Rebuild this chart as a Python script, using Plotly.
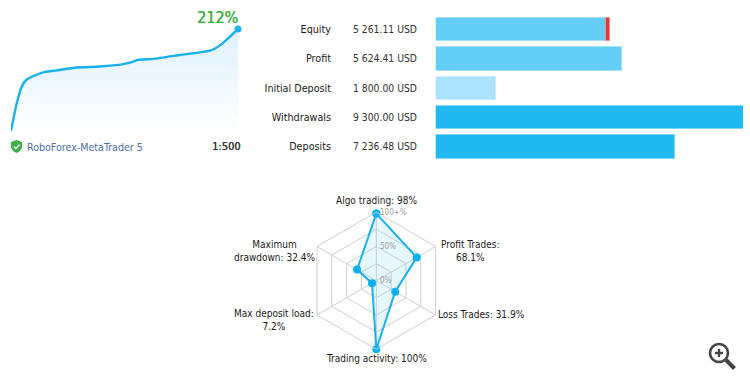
import plotly.graph_objects as go

W, H = 750, 383
FONT = "DejaVu Sans Condensed"

# growth curve
growth_x = [33, 50, 65, 80, 100, 130, 170, 230, 300, 370, 390, 415, 460, 540, 630, 660, 714]
growth_y = [0, 57, 92, 107, 114, 122, 126, 132, 134, 139, 142, 148, 150, 158, 167, 178, 212]
growth_label = "212%"
server_label = "RoboForex-MetaTrader 5"
leverage_label = "1:500"

# bars
bar_categories = ["Equity", "Profit", "Initial Deposit", "Withdrawals", "Deposits"]
bar_texts = ["5 261.11 USD", "5 624.41 USD", "1 800.00 USD", "9 300.00 USD", "7 236.48 USD"]
bar_values = [5151, 5624.41, 1800, 9300, 7236.48]
bar_colors = ["#63CEF6", "#63CEF6", "#ABE3FC", "#1FB8F1", "#1FB8F1"]
bar_edges = ["#A5E2FA", "#A5E2FA", "#CDEEFD", "#7FD6F7", "#7FD6F7"]
equity_loss = [110]

# radar
radar_axes = ["Algo trading", "Profit Trades", "Loss Trades", "Trading activity", "Max deposit load", "Maximum drawdown"]
radar_values = [98, 68.1, 31.9, 100, 7.2, 32.4]
radar_ticks = [0, 25, 50, 75, 100]
radar_ticktext = ["0%", "", "50%", "", "100+%"]
radar_labels = [
    ("Algo trading: 98%", 376.5, 200),
    ("Profit Trades:<br>68.1%", 469.5, 251),
    ("Loss Trades: 31.9%", 481, 314.5),
    ("Trading activity: 100%", 376.5, 358),
    ("Max deposit load:<br>7.2%", 273.5, 320),
    ("Maximum<br>drawdown: 32.4%", 274.5, 251),
]

def px(x):
    return x / W

def py(y):
    return 1 - y / H

fig = go.Figure()

# growth area
fig.add_trace(go.Scatter(
    x=growth_x, y=growth_y, mode="lines", xaxis="x", yaxis="y", cliponaxis=False,
    line=dict(color="#1AB0EE", width=2.4, shape="spline", smoothing=0.5),
    fill="tozeroy",
    fillgradient=dict(type="vertical", colorscale=[[0, "rgba(255,255,255,1)"], [1, "rgba(222,241,254,1)"]]),
    hoverinfo="skip", showlegend=False,
))
fig.add_trace(go.Scatter(
    x=growth_x[-1:], y=growth_y[-1:], mode="markers", xaxis="x", yaxis="y", cliponaxis=False,
    marker=dict(color="#1AB0EE", size=7), hoverinfo="skip", showlegend=False,
))

# bars
fig.add_trace(go.Bar(
    x=bar_values, y=bar_categories, orientation="h", xaxis="x2", yaxis="y2",
    marker=dict(color=bar_colors, line=dict(width=1, color=bar_edges)), width=0.8,
    hoverinfo="skip", showlegend=False,
))
fig.add_trace(go.Bar(
    x=equity_loss, y=bar_categories[:1], orientation="h", xaxis="x2", yaxis="y2",
    marker=dict(color="#E53935", line=dict(width=1, color="#F28F8C")), width=0.8,
    hoverinfo="skip", showlegend=False,
))

# radar
fig.add_trace(go.Scatterpolar(
    r=radar_values + radar_values[:1], theta=radar_axes + radar_axes[:1],
    mode="lines+markers", subplot="polar",
    line=dict(color="#1AB0EE", width=2),
    marker=dict(color="#07B1EE", size=8),
    fill="toself", fillcolor="rgba(60,195,250,0.13)",
    hoverinfo="skip", showlegend=False,
))

cx, cy, R = 376.3, 280.7, 68.5

annotations = []
for cat, txt in zip(bar_categories, bar_texts):
    annotations.append(dict(xref="paper", yref="y2", x=px(350.5), y=cat, text=txt, showarrow=False,
                            xanchor="left", yanchor="middle",
                            font=dict(family=FONT, size=10.3, color="#333333")))
for txt, x, y in radar_labels:
    annotations.append(dict(xref="paper", yref="paper", x=px(x), y=py(y), text=txt, showarrow=False,
                            xanchor="center", yanchor="middle", align="center",
                            font=dict(family=FONT, size=10, color="#1a1a1a")))
for tick, txt in zip(radar_ticks, radar_ticktext):
    if txt:
        annotations.append(dict(xref="paper", yref="paper", x=px(cx + 2), y=py(cy - R * tick / 100), text=txt,
                                showarrow=False, xanchor="left", yanchor="middle",
                                font=dict(family=FONT, size=8, color="#A0A0A0")))
annotations += [
    dict(xref="paper", yref="paper", x=px(240), y=py(17), text=growth_label, showarrow=False,
         xanchor="right", yanchor="middle",
         font=dict(family=FONT, size=16, color="#3EAE3E", shadow="0.4px 0 0 #3EAE3E")),
    dict(xref="paper", yref="paper", x=px(24.5), y=py(146.5), text=server_label, showarrow=False,
         xanchor="left", yanchor="middle", font=dict(family=FONT, size=10.6, color="#4A6FA5")),
    dict(xref="paper", yref="paper", x=px(243), y=py(146.5), text=leverage_label, showarrow=False,
         xanchor="right", yanchor="middle",
         font=dict(family=FONT, size=11, color="#333333", shadow="0.3px 0 0 #333333")),
]

shapes = [
    # shield
    dict(type="path", xref="paper", yref="paper", line=dict(width=0), fillcolor="#3EAE46",
         path=f"M {px(16.5)} {py(140)} L {px(22)} {py(142)} L {px(22)} {py(147)} Q {px(21)} {py(151)} {px(16.5)} {py(153)} Q {px(12)} {py(151)} {px(11)} {py(147)} L {px(11)} {py(142)} Z"),
    dict(type="path", xref="paper", yref="paper", line=dict(width=1.3, color="white"),
         path=f"M {px(14)} {py(146.5)} L {px(16)} {py(148.5)} L {px(19.5)} {py(144.5)}"),
    # zoom icon
    dict(type="circle", xref="paper", yref="paper", x0=px(710), x1=px(728), y0=py(344), y1=py(362),
         line=dict(width=2.6, color="#444444"), fillcolor="rgba(0,0,0,0)"),
    dict(type="line", xref="paper", yref="paper", x0=px(726), x1=px(734.5), y0=py(360), y1=py(368.5),
         line=dict(width=4, color="#444444")),
    dict(type="line", xref="paper", yref="paper", x0=px(715), x1=px(723), y0=py(353), y1=py(353),
         line=dict(width=2.4, color="#444444")),
    dict(type="line", xref="paper", yref="paper", x0=px(719), x1=px(719), y0=py(349), y1=py(357),
         line=dict(width=2.4, color="#444444")),
]

fig.update_layout(
    width=W, height=H, margin=dict(l=0, r=0, t=0, b=0, autoexpand=False),
    paper_bgcolor="white", plot_bgcolor="rgba(0,0,0,0)",
    barmode="stack", showlegend=False,
    xaxis=dict(domain=[px(11), px(238)], range=[33, 714], visible=False),
    yaxis=dict(domain=[py(131), py(29)], range=[0, 212], visible=False),
    xaxis2=dict(domain=[px(435.5), px(743)], range=[0, 9300], visible=False, anchor="y2"),
    yaxis2=dict(domain=[py(161), py(14.5)], autorange="reversed", anchor="free", position=px(331),
                showline=False, showgrid=False, zeroline=False, ticks="", side="left",
                tickfont=dict(family=FONT, size=10.7, color="#1a1a1a")),
    polar=dict(
        domain=dict(x=[px(cx - R), px(cx + R)], y=[py(cy + R), py(cy - R)]),
        gridshape="linear",
        bgcolor="rgba(0,0,0,0)",
        radialaxis=dict(range=[0, 100], angle=90, tickvals=radar_ticks, showticklabels=False,
                        showline=False, ticks="", gridcolor="#CFCFCF", gridwidth=1),
        angularaxis=dict(direction="clockwise", rotation=90, type="category", categoryorder="array",
                         categoryarray=radar_axes, showticklabels=False, ticks="",
                         gridcolor="#CFCFCF", gridwidth=1, linecolor="#CFCFCF", linewidth=1),
    ),
    annotations=annotations, shapes=shapes,
)

fig.write_html("out.html", config=dict(displayModeBar=False),
               post_script="document.body.style.margin='0';document.body.style.overflow='hidden';")
